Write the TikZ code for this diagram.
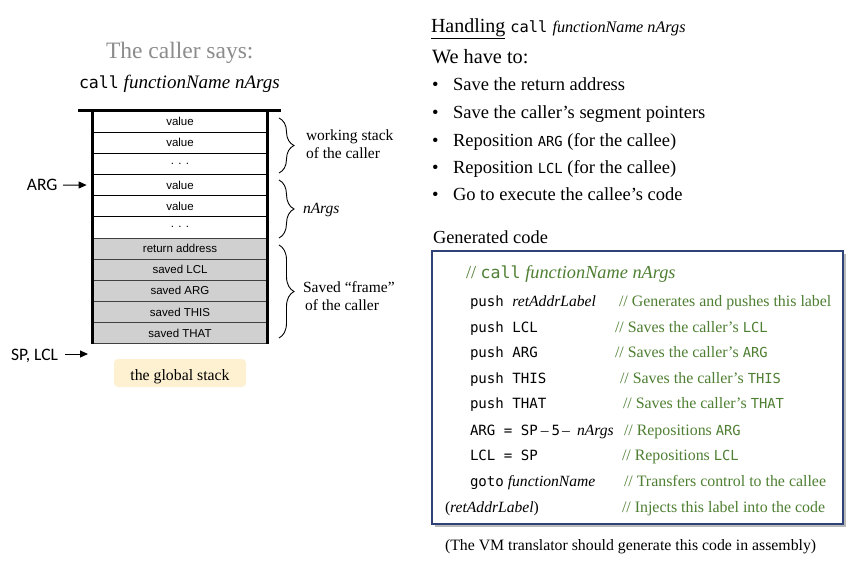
\documentclass[tikz,border=0pt]{standalone}
\usepackage{fontspec}
\setmainfont{Liberation Serif}
\setmonofont{DejaVu Sans Mono}
\newfontfamily\arialf{Liberation Sans}
\newfontfamily\calib{Carlito}
\usetikzlibrary{decorations.pathreplacing,arrows.meta,shadows}
\definecolor{cmt}{HTML}{4E7F32}
\definecolor{navy}{HTML}{2F4277}
\definecolor{ttlgray}{HTML}{8C8C8C}
\definecolor{cellgray}{HTML}{D0D0D0}
\definecolor{stackbox}{HTML}{FDF1D2}
\newcommand{\mtt}[1]{{\ttfamily\fontsize{13.8}{15}\selectfont #1}}
\newcommand{\cit}[1]{{\rmfamily\itshape\fontsize{15.6}{17}\selectfont #1}}
\newcommand{\cdash}{{\rmfamily\fontsize{15.6}{17}\selectfont –}}
\begin{document}
\begin{tikzpicture}[x=1pt,y=-1pt,
  txt/.style={anchor=base west, inner sep=0, outer sep=0},
  cellw/.style={draw=black, line width=0.8pt, fill=white, minimum width=174pt, minimum height=21.15pt, inner sep=0, font=\arialf\fontsize{11.5}{12}\selectfont},
  cellg/.style={cellw, fill=cellgray, draw=black!75},
  brc/.style={decorate, decoration={brace, amplitude=15pt}, line width=0.9pt},
  blbl/.style={txt, font=\fontsize{15.5}{17}\selectfont},
  ptr/.style={-{Triangle[length=8pt,width=7pt]}, line width=1pt},
  bul/.style={txt, font=\fontsize{18.5}{20}\selectfont},
  code/.style={txt, font=\ttfamily\fontsize{14.1}{16}\selectfont},
  cmtx/.style={txt, text=cmt, font=\fontsize{15.9}{18}\selectfont},
]
\useasboundingbox (0,0) rectangle (860,568);
\fill[white] (0,0) rectangle (860,568);

% ---------- left part ----------
\node[txt, text=ttlgray, font=\fontsize{23.5}{26}\selectfont] (title) at (106,58) {The caller says:};
\node[txt, font=\fontsize{19}{21}\selectfont] (callline) at (79,88) {{\ttfamily\fontsize{16.6}{18}\selectfont call} \textit{functionName nArgs}};

% stack cells
\foreach \i/\lab/\st in {1/value/cellw, 2/value/cellw, 3/{. . .}/cellw, 4/value/cellw, 5/value/cellw, 6/{. . .}/cellw,
  7/return address/cellg, 8/saved LCL/cellg, 9/saved ARG/cellg, 10/saved THIS/cellg, 11/saved THAT/cellg}
  \node[\st] (c\i) at (180, {111+21.15*(\i-0.5)}) {\lab};
\draw[line width=2.8pt] (c1.north west) -- (c11.south west);
\draw[line width=2.8pt] (c1.north east) -- (c11.south east);
\draw[line width=3pt] (78,110) -- (281,110);

% braces
\draw[brc] (279,118) -- (279,173);
\draw[brc] (279,180) -- (279,238);
\draw[brc] (279,245) -- (279,338);
\node[blbl] (ws1) at (306,140) {working stack};
\node[blbl] (ws2) at (306,158) {of the caller};
\node[blbl] (na) at (303,213) {\textit{nArgs}};
\node[blbl] (fr1) at (303,292) {Saved “frame”};
\node[blbl] (fr2) at (305,310) {of the caller};

% pointers
\node[txt, font=\calib\fontsize{17.5}{19}\selectfont] (arg) at (27,190) {ARG};
\coordinate (argS) at (63,185);
\draw[ptr, shorten >=6pt] (argS) -- (c4.west);
\node[txt, font=\calib\fontsize{17.5}{19}\selectfont] (splcl) at (11,360) {SP, LCL};
\coordinate (spS) at (65,354);
\coordinate (spT) at (88,354);
\draw[ptr] (spS) -- (spT);

% global stack box
\node[fill=stackbox, rounded corners=4pt, minimum width=132pt, minimum height=28pt, inner sep=0] (gs) at (180,373) {};
\node[anchor=base, inner sep=0, font=\fontsize{15.8}{17}\selectfont] (gst) at (180,380) {the global stack};

% ---------- right part ----------
\node[txt, font=\fontsize{20}{22}\selectfont] (hd) at (431,32)
  {\underline{Handling} {\ttfamily\fontsize{15.4}{17}\selectfont call} {\itshape\fontsize{16.2}{17}\selectfont functionName nArgs}};
\node[txt, font=\fontsize{20.3}{22}\selectfont] (we) at (432,63) {We have to:};
\foreach \y/\t [count=\k] in {90/{Save the return address}, 118/{Save the caller’s segment pointers},
  146/{Reposition \mtt{ARG} (for the callee)}, 173/{Reposition \mtt{LCL} (for the callee)},
  200/{Go to execute the callee’s code}} {
  \node[bul] (b\k) at (432,\y) {\textbullet};
  \node[bul] (bt\k) at (453,\y) {\t};
}
\node[txt, font=\fontsize{18.4}{20}\selectfont] (gen) at (433,243) {Generated code};

% code box
\node[draw=navy, line width=1.2pt, fill=white, minimum width=411pt, minimum height=273pt, inner sep=0,
  drop shadow={shadow xshift=2.5pt, shadow yshift=-2.5pt, opacity=0.45, fill=black!60}] (codebox) at (637.5,387.5) {};

\node[txt, text=cmt, font=\fontsize{18.3}{20}\selectfont] (l0) at (466,278)
  {// {\ttfamily\fontsize{16.6}{18}\selectfont call} \textit{functionName nArgs}};

\node[code] (l1) at (470,306) {push \cit{retAddrLabel}};
\node[code] (l2) at (470,332) {push LCL};
\node[code] (l3) at (470,357) {push ARG};
\node[code] (l4) at (470,383) {push THIS};
\node[code] (l5) at (470,408) {push THAT};
\node[code] (l6) at (470,435) {ARG = SP\kern3pt\cdash\kern3pt5\kern2pt\cdash\kern7pt\cit{nArgs}};
\node[code] (l7) at (470,460) {LCL = SP};
\node[code] (l8) at (470,486) {goto\cit{\ functionName}};
\node[txt, font=\fontsize{15.6}{17}\selectfont] (l9) at (445,512) {(\textit{retAddrLabel})};

\node[cmtx] (m1) at (619,306) {// Generates and pushes this label};
\node[cmtx] (m2) at (615,332) {// Saves the caller’s \mtt{LCL}};
\node[cmtx] (m3) at (615,357) {// Saves the caller’s \mtt{ARG}};
\node[cmtx] (m4) at (620,383) {// Saves the caller’s \mtt{THIS}};
\node[cmtx] (m5) at (623,408) {// Saves the caller’s \mtt{THAT}};
\node[cmtx] (m6) at (624,435) {// Repositions \mtt{ARG}};
\node[cmtx] (m7) at (622,460) {// Repositions \mtt{LCL}};
\node[cmtx] (m8) at (624,486) {// Transfers control to the callee};
\node[cmtx] (m9) at (622,512) {// Injects this label into the code};

\node[txt, font=\fontsize{15.8}{17}\selectfont] (cap) at (445,550) {(The VM translator should generate this code in assembly)};
\end{tikzpicture}
\end{document}
